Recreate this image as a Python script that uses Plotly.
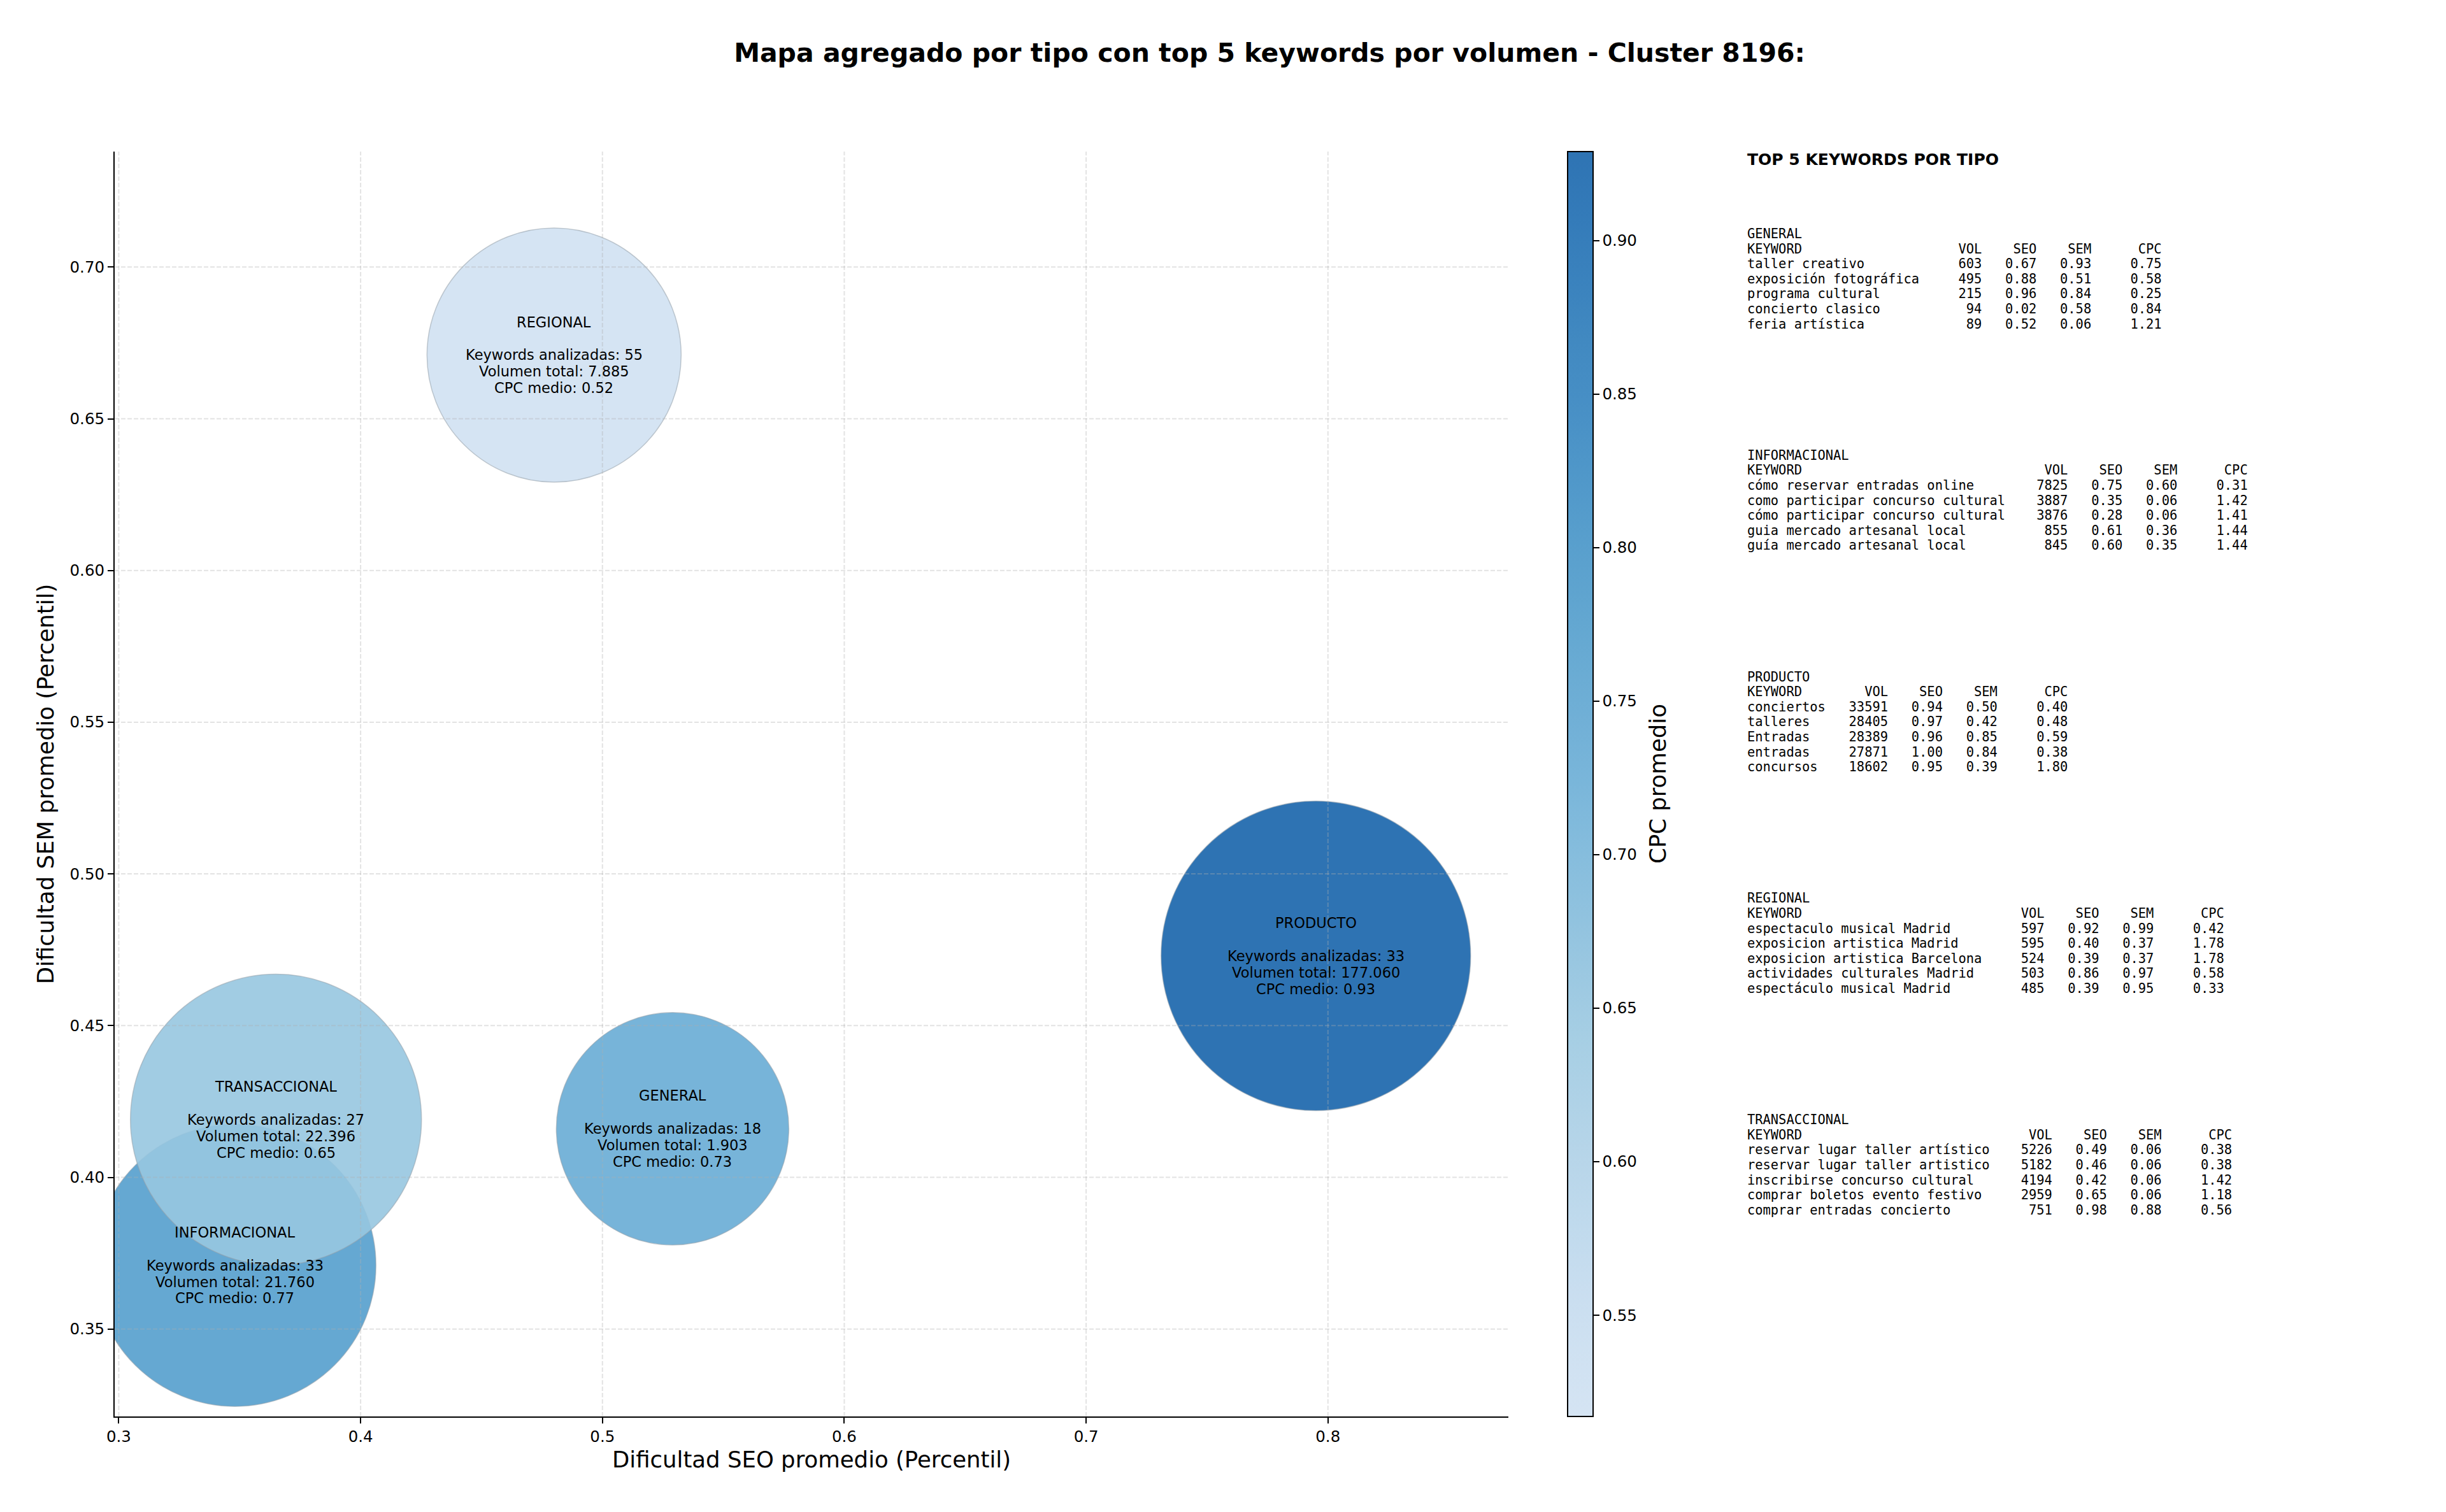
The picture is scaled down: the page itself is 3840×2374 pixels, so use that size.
import numpy as np
import plotly.graph_objects as go

# ---------------- data ----------------
tipos = ["GENERAL", "INFORMACIONAL", "PRODUCTO", "REGIONAL", "TRANSACCIONAL"]
seo_medio = [0.529, 0.348, 0.795, 0.480, 0.365]
sem_medio = [0.416, 0.371, 0.473, 0.671, 0.419]
keywords_analizadas = [18, 33, 33, 55, 27]
volumen_total = [1903, 21760, 177060, 7885, 22396]
cpc_medio = [0.73, 0.77, 0.929, 0.517, 0.65]

x_ticks = [0.3, 0.4, 0.5, 0.6, 0.7, 0.8]
y_ticks = [0.35, 0.40, 0.45, 0.50, 0.55, 0.60, 0.65, 0.70]
cb_ticks = [0.55, 0.60, 0.65, 0.70, 0.75, 0.80, 0.85, 0.90]

top_general_kw = ["taller creativo", "exposición fotográfica", "programa cultural", "concierto clasico", "feria artística"]
top_general_vol = [603, 495, 215, 94, 89]
top_general_seo = [0.67, 0.88, 0.96, 0.02, 0.52]
top_general_sem = [0.93, 0.51, 0.84, 0.58, 0.06]
top_general_cpc = [0.75, 0.58, 0.25, 0.84, 1.21]

top_info_kw = ["cómo reservar entradas online", "como participar concurso cultural",
               "cómo participar concurso cultural", "guia mercado artesanal local", "guía mercado artesanal local"]
top_info_vol = [7825, 3887, 3876, 855, 845]
top_info_seo = [0.75, 0.35, 0.28, 0.61, 0.60]
top_info_sem = [0.60, 0.06, 0.06, 0.36, 0.35]
top_info_cpc = [0.31, 1.42, 1.41, 1.44, 1.44]

top_prod_kw = ["conciertos", "talleres", "Entradas", "entradas", "concursos"]
top_prod_vol = [33591, 28405, 28389, 27871, 18602]
top_prod_seo = [0.94, 0.97, 0.96, 1.00, 0.95]
top_prod_sem = [0.50, 0.42, 0.85, 0.84, 0.39]
top_prod_cpc = [0.40, 0.48, 0.59, 0.38, 1.80]

top_reg_kw = ["espectaculo musical Madrid", "exposicion artistica Madrid", "exposicion artistica Barcelona",
              "actividades culturales Madrid", "espectáculo musical Madrid"]
top_reg_vol = [597, 595, 524, 503, 485]
top_reg_seo = [0.92, 0.40, 0.39, 0.86, 0.39]
top_reg_sem = [0.99, 0.37, 0.37, 0.97, 0.95]
top_reg_cpc = [0.42, 1.78, 1.78, 0.58, 0.33]

top_trans_kw = ["reservar lugar taller artístico", "reservar lugar taller artistico", "inscribirse concurso cultural",
                "comprar boletos evento festivo", "comprar entradas concierto"]
top_trans_vol = [5226, 5182, 4194, 2959, 751]
top_trans_seo = [0.49, 0.46, 0.42, 0.65, 0.98]
top_trans_sem = [0.06, 0.06, 0.06, 0.06, 0.88]
top_trans_cpc = [0.38, 0.38, 1.42, 1.18, 0.56]

# ---------------- styling ----------------
W, H = 3840, 2374
OFF = 8  # page body margin compensation
FONT = "DejaVu Sans"
MONO = "DejaVu Sans Mono"
bubble_diameter_px = [365, 443, 486, 399, 457]

# plot area in pixels (target picture coordinates)
PL, PR, PT, PB = 180, 2368, 238, 2224

def px_x(p):
    return (p - OFF) / W

def px_y(p):
    return 1 - (p - OFF) / H

# truncated Blues colormap (0.2 .. 0.8) with alpha 0.9
blues_stops = [(0.0, "#f7fbff"), (0.125, "#deebf7"), (0.25, "#c6dbef"), (0.375, "#9ecae1"),
               (0.5, "#6baed6"), (0.625, "#4292c6"), (0.75, "#2171b5"), (0.875, "#08519c"), (1.0, "#08306b")]
bp = np.array([s for s, _ in blues_stops])
brgb = np.array([[int(c[i:i + 2], 16) for i in (1, 3, 5)] for _, c in blues_stops], dtype=float)
colorscale = []
for t in np.linspace(0, 1, 21):
    v = 0.2 + 0.6 * t
    rgb = [np.interp(v, bp, brgb[:, k]) for k in range(3)]
    colorscale.append([float(t), "rgba(%d,%d,%d,0.9)" % tuple(round(c) for c in rgb)])

fig = go.Figure()
fig.add_trace(go.Scatter(
    x=seo_medio, y=sem_medio, mode="markers",
    cliponaxis=True, hoverinfo="skip", showlegend=False,
    marker=dict(
        size=bubble_diameter_px, sizemode="diameter", color=cpc_medio, colorscale=colorscale,
        cmin=min(cpc_medio), cmax=max(cpc_medio), opacity=1,
        line=dict(color="rgba(150,160,170,0.55)", width=1.5),
        colorbar=dict(
            thickness=40, thicknessmode="pixels",
            len=(PB - PT) / H, lenmode="fraction",
            x=px_x(2461), xanchor="left", y=px_y((PT + PB) / 2), yanchor="middle",
            xpad=0, ypad=0, outlinewidth=2, outlinecolor="black",
            ticks="outside", ticklen=9, tickwidth=2, tickcolor="black",
            tickvals=cb_ticks, tickformat=".2f",
            tickfont=dict(family=FONT, size=24.5, color="black"),
        ),
    ),
))

# bubble labels, one annotation per line (matplotlib-like line spacing)
LBL_H = 25.9
for t, n, v, c, xv, yv in zip(tipos, keywords_analizadas, volumen_total, cpc_medio, seo_medio, sem_medio):
    vol_txt = f"{v:,}".replace(",", ".")
    lines = [t, "", f"Keywords analizadas: {n}", f"Volumen total: {vol_txt}", f"CPC medio: {c:.2f}"]
    for k, ln in enumerate(lines):
        if not ln:
            continue
        fig.add_annotation(x=xv, y=yv, xref="x", yref="y", text=ln, showarrow=False,
                           xanchor="center", yanchor="middle", yshift=-(k - 2) * LBL_H,
                           font=dict(family=FONT, size=22.5, color="black"))

# dashed grid drawn above bubbles (as in reference)
grid_line = dict(color="rgba(176,176,176,0.35)", width=2, dash="7px,3px")
for v in x_ticks:
    fig.add_shape(type="line", x0=v, x1=v, y0=0, y1=1, xref="x", yref="y domain", layer="above", line=grid_line)
for v in y_ticks:
    fig.add_shape(type="line", y0=v, y1=v, x0=0, x1=1, yref="y", xref="x domain", layer="above", line=grid_line)

axis_common = dict(showgrid=False, zeroline=False, showline=True, linecolor="black", linewidth=2,
                   ticks="outside", ticklen=9, tickwidth=2, tickcolor="black", mirror=False,
                   tickfont=dict(family=FONT, size=24.5, color="black"), automargin=False)

fig.update_layout(
    width=W, height=H, margin=dict(l=0, r=0, t=0, b=0),
    paper_bgcolor="white", plot_bgcolor="white",
    title=dict(text="Mapa agregado por tipo con top 5 keywords por volumen - Cluster 8196:",
               x=px_x(1993), xanchor="center", y=px_y(83), yanchor="middle",
               font=dict(family=FONT, size=41, color="black", weight="bold")),
    xaxis=dict(axis_common, domain=[px_x(PL), px_x(PR)], range=[0.2983, 0.8746],
               tickvals=x_ticks, ticktext=[f"{v:.1f}" for v in x_ticks],
               title=dict(text="Dificultad SEO promedio (Percentil)", standoff=10,
                          font=dict(family=FONT, size=35.5, color="black"))),
    yaxis=dict(axis_common, domain=[px_y(PB), px_y(PT)], range=[0.32118, 0.73806],
               tickvals=y_ticks, ticktext=[f"{v:.2f}" for v in y_ticks],
               title=dict(text="Dificultad SEM promedio (Percentil)", standoff=14,
                          font=dict(family=FONT, size=35.5, color="black"))),
)

# colorbar label
fig.add_annotation(x=px_x(2602), y=px_y((PT + PB) / 2), xref="paper", yref="paper", text="CPC promedio",
                   textangle=-90, showarrow=False, xanchor="center", yanchor="middle",
                   font=dict(family=FONT, size=35.5, color="black"))

# ---------------- keyword tables ----------------
blocks = [
    ("GENERAL", top_general_kw, top_general_vol, top_general_seo, top_general_sem, top_general_cpc),
    ("INFORMACIONAL", top_info_kw, top_info_vol, top_info_seo, top_info_sem, top_info_cpc),
    ("PRODUCTO", top_prod_kw, top_prod_vol, top_prod_seo, top_prod_sem, top_prod_cpc),
    ("REGIONAL", top_reg_kw, top_reg_vol, top_reg_seo, top_reg_sem, top_reg_cpc),
    ("TRANSACCIONAL", top_trans_kw, top_trans_vol, top_trans_seo, top_trans_sem, top_trans_cpc),
]
TX = 2741
fig.add_annotation(x=px_x(TX), y=px_y(250), xref="paper", yref="paper", xanchor="left", yanchor="middle",
                   text="TOP 5 KEYWORDS POR TIPO", showarrow=False,
                   font=dict(family=FONT, size=25, color="black", weight="bold"))
LINE_H = 23.6
for bi, (name, kws, vols, seos, sems, cpcs) in enumerate(blocks):
    w = max(7, max(len(k) for k in kws))
    lines = [name, "KEYWORD".ljust(w) + f"{'VOL':>8}{'SEO':>7}{'SEM':>7}{'CPC':>9}"]
    for k, v, s1, s2, c in zip(kws, vols, seos, sems, cpcs):
        lines.append(k.ljust(w) + f"{v:>8}{s1:>7.2f}{s2:>7.2f}{c:>9.2f}")
    y0 = 367 + bi * 347.8
    for li, ln in enumerate(lines):
        fig.add_annotation(x=px_x(TX), y=px_y(y0 + li * LINE_H), xref="paper", yref="paper",
                           xanchor="left", yanchor="middle", showarrow=False,
                           text=ln.replace(" ", "\u00a0"),
                           font=dict(family=MONO, size=20.4, color="black"))

fig.write_html("out.html")
